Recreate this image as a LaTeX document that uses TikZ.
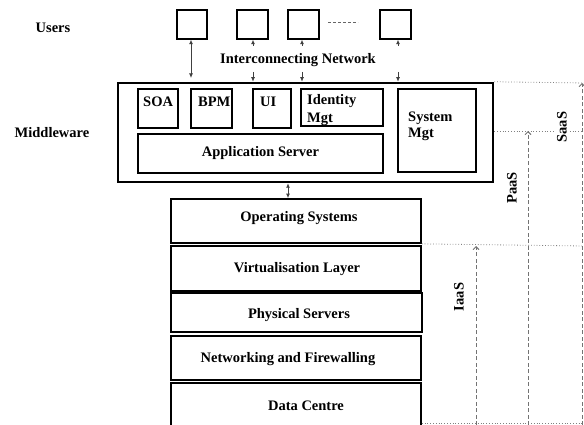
\documentclass[tikz,border=0pt]{standalone}
\usepackage{fontspec}
\setmainfont{Liberation Serif}
\usetikzlibrary{arrows.meta}
\begin{document}
\begin{tikzpicture}[x=1pt,y=-1pt,
  txt/.style={font=\bfseries\fontsize{14.5}{16.5}\selectfont, inner sep=0pt},
  box/.style={draw, line width=1.7pt, inner sep=0pt},
  userbox/.style={draw, line width=1.4pt, inner sep=0pt},
  outer/.style={draw, line width=2.5pt, inner sep=0pt},
  link/.style={draw=black!75, line width=0.9pt},
  tipdown/.style={-{Latex[length=4.5pt,width=4pt]}},
  tipboth/.style={{Latex[length=4.5pt,width=4pt]}-{Latex[length=4.5pt,width=4pt]}},
  guide/.style={draw=black!50, line width=0.8pt, dotted},
  span/.style={draw=black!55, line width=0.9pt, dash pattern=on 4pt off 2.5pt, -{Straight Barb[length=3pt,width=6pt]}},
]
\useasboundingbox (0,0) rectangle (584,425);

% left-hand captions
\node[txt] (users) at (53,28) {Users};
\node[txt] (mwcap) at (52,133) {Middleware};

% user terminals
\node[userbox, minimum width=30pt, minimum height=29pt] (u1) at (192,24.5) {};
\node[userbox, minimum width=31pt, minimum height=29pt] (u2) at (252.5,24.5) {};
\node[userbox, minimum width=31pt, minimum height=29pt] (u3) at (303.5,24.5) {};
\node[userbox, minimum width=31pt, minimum height=29pt] (u4) at (395.5,24.5) {};
\coordinate (dA) at (328,22);
\coordinate (dB) at (358,22);
\draw[black!60, line width=0.8pt, dash pattern=on 3pt off 2pt] (dA) -- (dB);

\node[txt] (net) at (298,60) {Interconnecting Network};

% middleware block
\node[outer, minimum width=375pt, minimum height=99pt] (mw) at (305.5,132.5) {};
\node[box, minimum width=40pt, minimum height=39pt] (soa) at (158,108.5) {};
\node[box, minimum width=41pt, minimum height=39pt] (bpm) at (211.5,108.5) {};
\node[box, minimum width=38pt, minimum height=39pt] (ui) at (272,108.5) {};
\node[box, minimum width=82pt, minimum height=37pt] (idm) at (342,107.5) {};
\node[box, minimum width=245pt, minimum height=39pt] (app) at (260.5,153.5) {};
\node[box, minimum width=78pt, minimum height=83pt] (sys) at (437,130.5) {};

\node[txt, anchor=west] (soaT) at (143,102) {SOA};
\node[txt, anchor=west] (bpmT) at (198,102) {BPM};
\node[txt, anchor=west] (uiT) at (260,102) {UI};
\node[txt, anchor=west] (idmT1) at (307,101) {Identity};
\node[txt, anchor=west] (idmT2) at (307,119) {Mgt};
\node[txt] (appT) at (app.center) {Application Server};
\node[txt, anchor=west] (sysT1) at (408,118) {System};
\node[txt, anchor=west] (sysT2) at (408,134) {Mgt};

% user links through the network
\coordinate (a1) at (191,78);
\draw[link, tipboth] (u1.south -| a1) -- (a1);
\foreach \i/\x in {2/253, 3/302, 4/398} {
  \coordinate (up\i) at (\x,46);
  \coordinate (dn\i) at (\x,72);
  \draw[link, tipdown] (up\i) -- (u\i.south -| up\i);
  \draw[link, tipdown] (dn\i) -- (mw.north -| dn\i);
}

% infrastructure stack
\node[box, minimum width=250pt, minimum height=44pt] (os) at (296,221) {};
\node[box, minimum width=250pt, minimum height=45pt] (virt) at (296,268.5) {};
\node[box, minimum width=251pt, minimum height=39pt] (phys) at (296.5,312.5) {};
\node[box, minimum width=250pt, minimum height=44pt] (nwk) at (296,358) {};
\node[box, minimum width=250pt, minimum height=47pt] (dc) at (296,406.5) {};

\node[txt] (osT) at (299,218) {Operating Systems};
\node[txt] (virtT) at (297,269) {Virtualisation Layer};
\node[txt] (physT) at (299,315) {Physical Servers};
\node[txt] (nwkT) at (288,359) {Networking and Firewalling};
\node[txt] (dcT) at (306,406) {Data Centre};

\coordinate (m1) at (288,0);
\draw[link, tipboth] (mw.south -| m1) -- (os.north -| m1);

% service-layer extents
\coordinate (rTop) at (584,83);
\coordinate (rMid) at (584,131);
\coordinate (rLow) at (584,246);
\coordinate (rBot) at (584,423);
\draw[guide] (mw.north east) -- (rTop);
\draw[guide] (mw.east |- rMid) -- (rMid);
\draw[guide] (os.south east) -- (rLow);
\draw[guide] (dc.east |- rBot) -- (rBot);

\coordinate (sBot) at (582,425);
\coordinate (pBot) at (528,425);
\coordinate (iBot) at (476,425);
\draw[span] (sBot) -- (sBot |- rTop);
\draw[span] (pBot) -- (pBot |- rMid);
\draw[span] (iBot) -- (iBot |- rLow);

\node[txt, rotate=90, fill=white, inner sep=2pt] (saas) at (562,127) {SaaS};
\node[txt, rotate=90] (paas) at (512,188) {PaaS};
\node[txt, rotate=90] (iaas) at (459,297) {IaaS};
\end{tikzpicture}
\end{document}
